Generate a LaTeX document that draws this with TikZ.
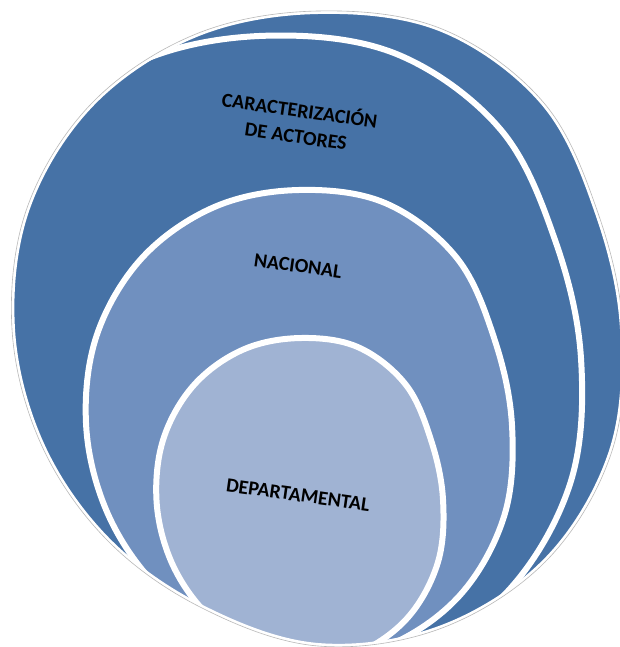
\documentclass[tikz,border=0pt]{standalone}
\usepackage{fontspec}
\setmainfont{Carlito}
\definecolor{darkband}{HTML}{4672A6}
\definecolor{midband}{HTML}{7090BF}
\definecolor{lightband}{HTML}{A0B3D3}
\newcommand{\lbl}{\bfseries\fontsize{20}{26}\selectfont}
% outer silhouette, the inner rings are scaled copies of it
\newcommand{\shell}{plot[smooth cycle,tension=0.6] coordinates {(318,11) (442,29) (544,103) (598,213) (623,329) (612,451) (548,559) (442,628) (318,646) (202,608) (107,540) (41,444) (12,329) (27,208) (92,103) (196,34)}}

\begin{document}
\begin{tikzpicture}[x=1pt,y=-1pt,
   ring/.style={draw=white,line width=6pt},
   txt/.style={align=center,rotate=-8,font=\lbl,text=black}]
   \useasboundingbox (0,0) rectangle (619,647);
   \begin{scope}
      \clip \shell;
      \fill[darkband] \shell;
      \filldraw[fill=darkband,ring,shift={(270,360)},xscale=1.02,yscale=1.02,shift={(-318,-329)}] \shell;
      \filldraw[fill=midband,ring,shift={(299.4,425.3)},xscale=0.697,yscale=0.74,shift={(-318,-329)}] \shell;
      \filldraw[fill=lightband,ring,shift={(300,500.2)},xscale=0.469,yscale=0.51,shift={(-318,-329)}] \shell;
   \end{scope}
   \draw[white,line width=6pt] \shell;
   \draw[gray!55,line width=0.6pt] \shell;
   \node[txt] (caract) at (298,122) {CARACTERIZACIÓN\\DE ACTORES};
   \node[txt] (nacional) at (298,266) {NACIONAL};
   \node[txt] (depto) at (298,495) {DEPARTAMENTAL};
\end{tikzpicture}
\end{document}
